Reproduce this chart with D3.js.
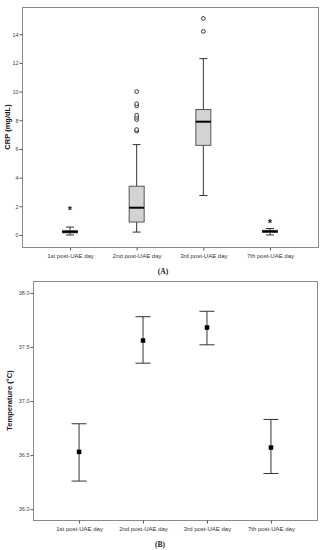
<!DOCTYPE html>
<html><head><meta charset="utf-8">
<script src="https://cdn.jsdelivr.net/npm/d3@7"></script>
<style>body{margin:0;background:#fff}svg{display:block}</style>
</head><body>
<script>
const categories = ["1st post-UAE day","2nd post-UAE day","3rd post-UAE day","7th post-UAE day"];
// CRP box plot stats: [whiskerLow, q1, median, q3, whiskerHigh]
const crpLow    = [0.0, 0.2, 2.75, 0.0];
const crpQ1     = [0.15, 0.9, 6.25, 0.18];
const crpMedian = [0.22, 1.9, 7.9, 0.25];
const crpQ3     = [0.3, 3.4, 8.75, 0.32];
const crpHigh   = [0.55, 6.3, 12.3, 0.45];
const crpOutliers = [[], [7.25,7.35,8.05,8.2,8.35,9.0,9.15,10.0], [14.2,15.1], []];
const crpExtremes = [[1.75], [], [], [0.9]];
const crpTicks = [0,2,4,6,8,10,12,14];
// Temperature mean and 95% CI
const tempMean  = [36.53, 37.56, 37.68, 36.57];
const tempLower = [36.26, 37.35, 37.52, 36.33];
const tempUpper = [36.79, 37.78, 37.83, 36.83];
const tempTicks = [36.0, 36.5, 37.0, 37.5, 38.0];

const W = 326, H = 550;
const svg = d3.select("body").append("svg").attr("width", W).attr("height", H)
  .style("font-family", "Arial, 'Liberation Sans', sans-serif");

function frame(g, x0, y0, x1, y1){
  g.append("rect").attr("x", x0+0.5).attr("y", y0+0.5).attr("width", x1-x0).attr("height", y1-y0)
    .attr("fill","none").attr("stroke","#8a8a8a").attr("stroke-width",1);
}

// ---------- Chart A ----------
{
  const L=22, T=7, R=318, B=247;
  const x = d3.scalePoint().domain(categories).range([L, R]).padding(0.72);
  const y = d3.scaleLinear().domain([-0.84, 15.9]).range([B, T]);
  const g = svg.append("g");
  frame(g, L, T, R, B);
  const ya = g.append("g").attr("transform", `translate(${L+0.5},0)`)
    .call(d3.axisLeft(y).tickValues(crpTicks).tickFormat(d3.format("d")).tickSize(3).tickPadding(1));
  ya.select(".domain").remove();
  ya.selectAll("line").attr("stroke","#555");
  ya.selectAll("text").attr("font-size", 5.5).attr("fill","#444");
  const xa = g.append("g").attr("transform", `translate(0,${B+0.5})`)
    .call(d3.axisBottom(x).tickSize(3).tickPadding(3));
  xa.select(".domain").remove();
  xa.selectAll("line").attr("stroke","#555");
  xa.selectAll("text").attr("font-size", 6).attr("fill","#333");

  g.append("text").attr("transform", `translate(10,${(T+B)/2}) rotate(-90)`)
    .attr("text-anchor","middle").attr("font-size",7.5).attr("font-weight","bold").attr("fill","#111")
    .text("CRP (mg/dL)");

  const bw = 15, cw = 8;
  categories.forEach((c,i)=>{
    const cx = x(c);
    const gg = g.append("g");
    gg.append("line").attr("x1",cx).attr("x2",cx).attr("y1",y(crpLow[i])).attr("y2",y(crpQ1[i])).attr("stroke","#333").attr("stroke-width",1);
    gg.append("line").attr("x1",cx).attr("x2",cx).attr("y1",y(crpQ3[i])).attr("y2",y(crpHigh[i])).attr("stroke","#333").attr("stroke-width",1);
    [crpLow[i], crpHigh[i]].forEach(v=>gg.append("line").attr("x1",cx-cw/2).attr("x2",cx+cw/2).attr("y1",y(v)).attr("y2",y(v)).attr("stroke","#333").attr("stroke-width",1));
    gg.append("rect").attr("x",cx-bw/2).attr("y",y(crpQ3[i])).attr("width",bw).attr("height",Math.max(1,y(crpQ1[i])-y(crpQ3[i])))
      .attr("fill","#d3d3d3").attr("stroke","#555").attr("stroke-width",1);
    gg.append("line").attr("x1",cx-bw/2).attr("x2",cx+bw/2).attr("y1",y(crpMedian[i])).attr("y2",y(crpMedian[i])).attr("stroke","#000").attr("stroke-width",2);
    crpOutliers[i].forEach(v=>gg.append("circle").attr("cx",cx).attr("cy",y(v)).attr("r",1.9).attr("fill","#fff").attr("stroke","#222").attr("stroke-width",0.9));
    crpExtremes[i].forEach(v=>gg.append("text").attr("x",cx).attr("y",y(v)+4.5).attr("text-anchor","middle").attr("font-size",11).attr("font-weight","bold").attr("fill","#222").text("*"));
  });
  svg.append("text").attr("x",163).attr("y",274).attr("text-anchor","middle").attr("font-family","'Liberation Serif', 'Times New Roman', serif")
    .attr("font-size",7.5).attr("font-weight","bold").attr("fill","#222").text("(A)");
}

// ---------- Chart B ----------
{
  const L=33, T=281, R=317, B=520;
  const x = d3.scalePoint().domain(categories).range([L, R]).padding(0.72);
  const y = d3.scaleLinear().domain([35.9, 38.11]).range([B, T]);
  const g = svg.append("g");
  frame(g, L, T, R, B);
  const ya = g.append("g").attr("transform", `translate(${L+0.5},0)`)
    .call(d3.axisLeft(y).tickValues(tempTicks).tickFormat(d3.format(".1f")).tickSize(3).tickPadding(1));
  ya.select(".domain").remove();
  ya.selectAll("line").attr("stroke","#555");
  ya.selectAll("text").attr("font-size", 5.5).attr("fill","#444");
  const xa = g.append("g").attr("transform", `translate(0,${B+0.5})`)
    .call(d3.axisBottom(x).tickSize(3).tickPadding(3));
  xa.select(".domain").remove();
  xa.selectAll("line").attr("stroke","#555");
  xa.selectAll("text").attr("font-size", 6).attr("fill","#333");

  g.append("text").attr("transform", `translate(12,${(T+B)/2}) rotate(-90)`)
    .attr("text-anchor","middle").attr("font-size",7.5).attr("font-weight","bold").attr("fill","#111")
    .text("Temperature (°C)");

  const cw = 15, ms = 4.5;
  categories.forEach((c,i)=>{
    const cx = x(c);
    g.append("line").attr("x1",cx).attr("x2",cx).attr("y1",y(tempLower[i])).attr("y2",y(tempUpper[i])).attr("stroke","#333").attr("stroke-width",1);
    [tempLower[i], tempUpper[i]].forEach(v=>g.append("line").attr("x1",cx-cw/2).attr("x2",cx+cw/2).attr("y1",y(v)).attr("y2",y(v)).attr("stroke","#333").attr("stroke-width",1));
    g.append("rect").attr("x",cx-ms/2).attr("y",y(tempMean[i])-ms/2).attr("width",ms).attr("height",ms).attr("fill","#000");
  });
  svg.append("text").attr("x",160).attr("y",547).attr("text-anchor","middle").attr("font-family","'Liberation Serif', 'Times New Roman', serif")
    .attr("font-size",7.5).attr("font-weight","bold").attr("fill","#222").text("(B)");
}
</script>
</body></html>
